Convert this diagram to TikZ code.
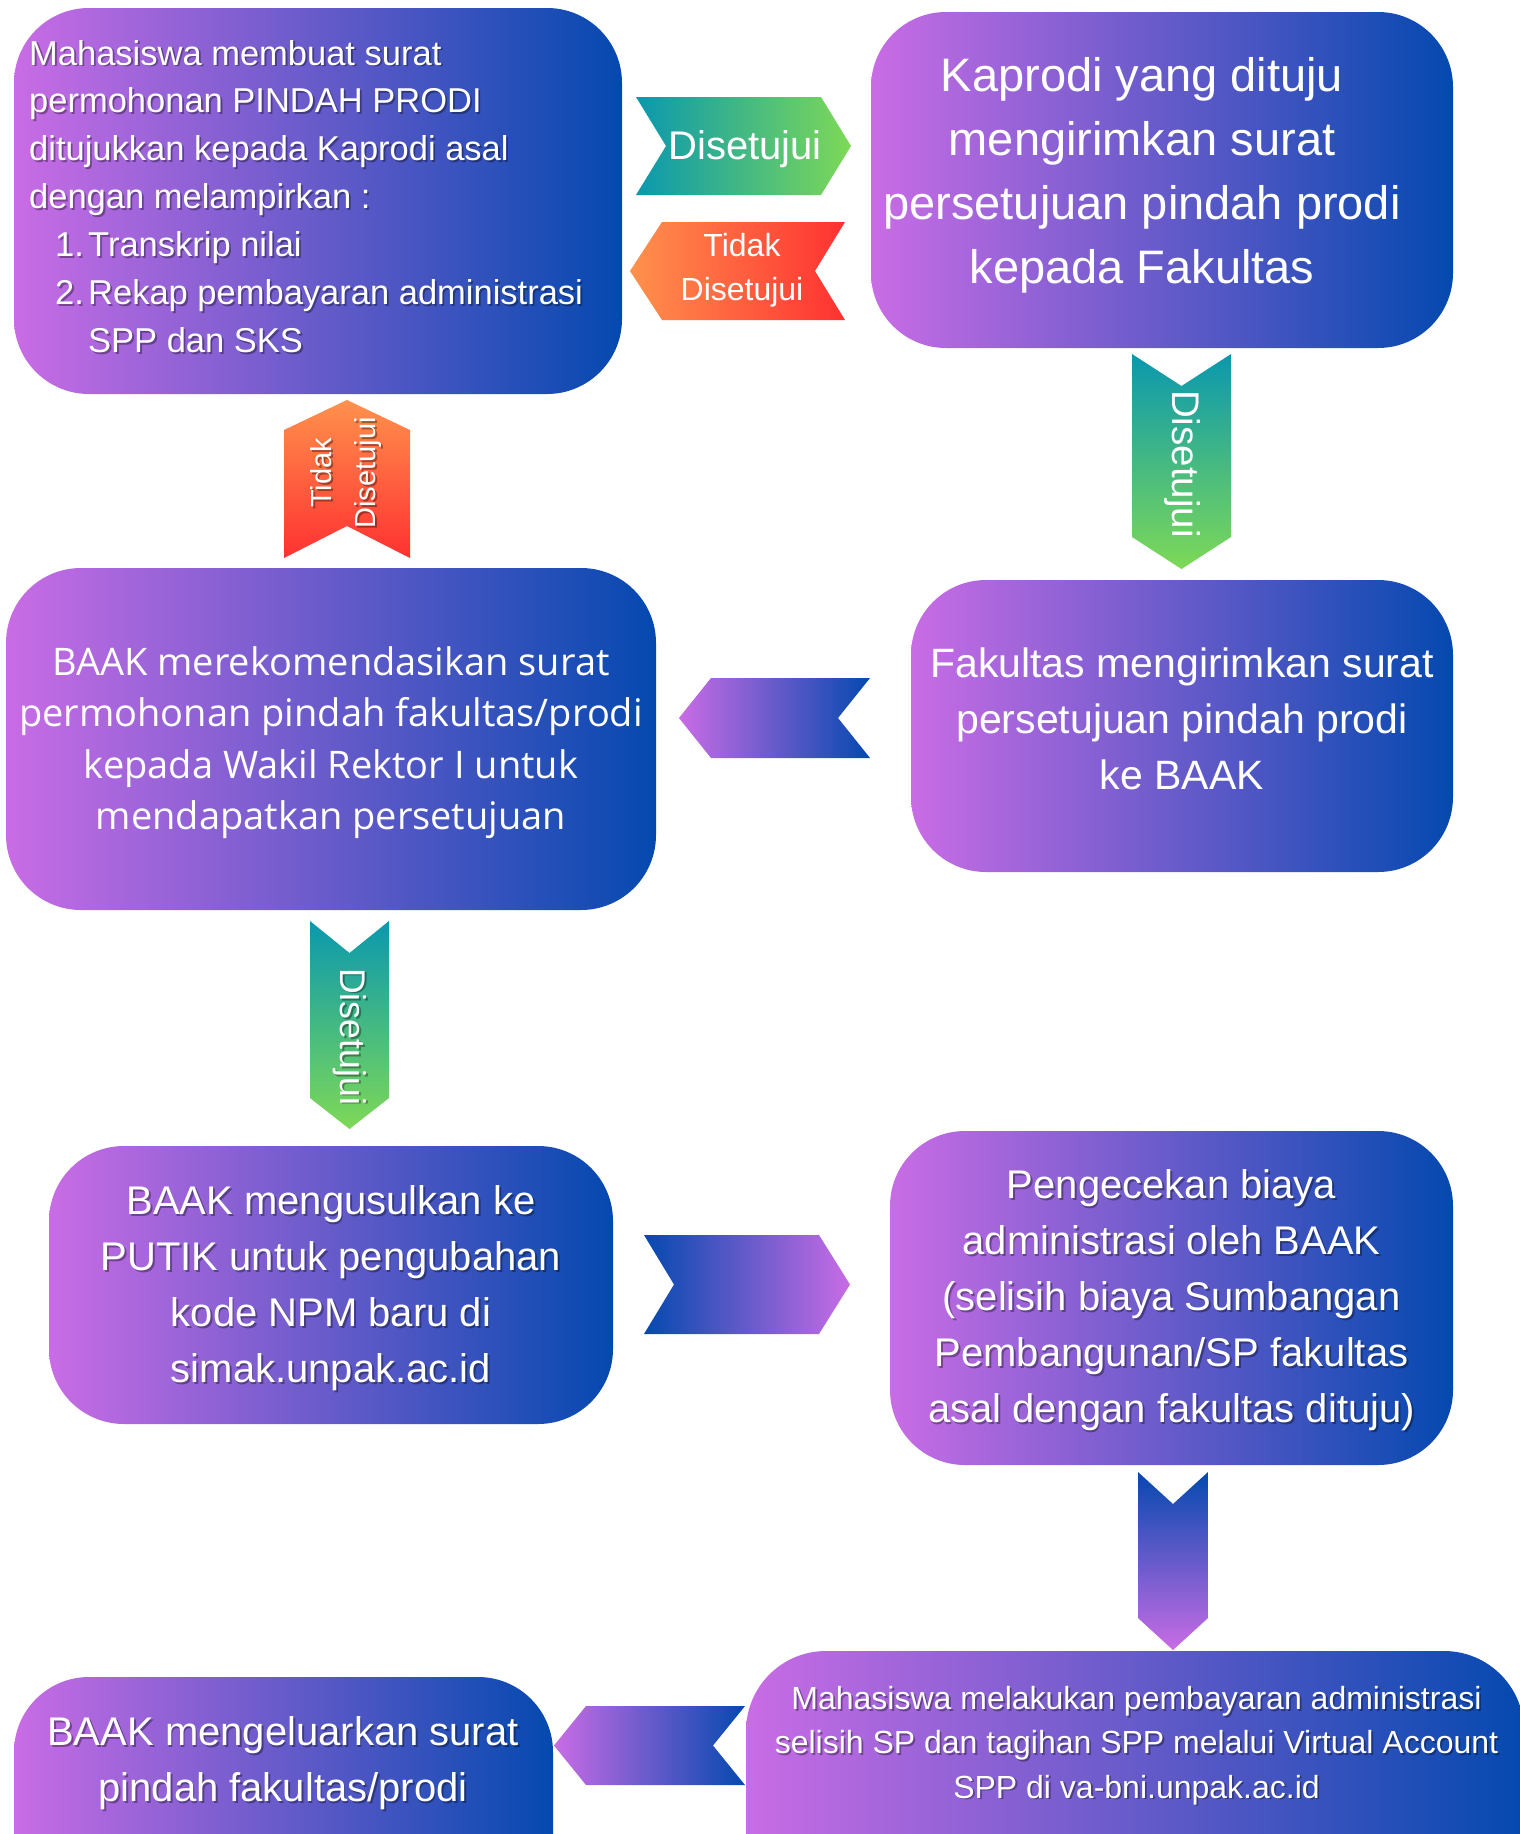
\documentclass[tikz,border=0pt]{standalone}
\usepackage{fontspec}
\setmainfont{Liberation Sans}
\newfontfamily\osans{Open Sans}
\definecolor{bL}{HTML}{C96CE5}
\definecolor{bR}{HTML}{0449AF}
\definecolor{gT}{HTML}{0A98AE}
\definecolor{gB}{HTML}{7ED957}
\definecolor{oL}{HTML}{FF914D}
\definecolor{oR}{HTML}{FF3131}
\tikzset{
  box/.style={rectangle, rounded corners=75pt, left color=bL, right color=bR, draw=none, inner sep=0pt},
  txt/.style={text=white, inner sep=0pt, align=center},
  shd/.style={text=black, opacity=0.35},
}
\newcommand\shtxt[4]{%
  \node[txt,#3,shd] at ([shift={(1.8,1.8)}]#2) {#4};
  \node[txt,#3] (#1) at (#2) {#4};}
\begin{document}
\begin{tikzpicture}[x=1pt,y=-1pt]
\useasboundingbox (0,0) rectangle (1520,1834);
\fill[white] (0,0) rectangle (1520,1834);
\begin{scope}
\clip (0,0) rectangle (1520,1834);

% ---------- boxes ----------
\node[box, minimum width=608pt, minimum height=386pt] (b1) at (318,201) {};
\node[box, minimum width=582pt, minimum height=336pt] (b2) at (1162,180) {};
\node[box, minimum width=542pt, minimum height=292pt] (b3) at (1182,726) {};
\node[box, minimum width=650pt, minimum height=342pt] (b4) at (331,739) {};
\node[box, minimum width=564pt, minimum height=278pt] (b5) at (331,1285) {};
\node[box, minimum width=563pt, minimum height=334pt] (b6) at (1171.5,1298) {};
\node[box, minimum width=778pt, minimum height=270pt, rounded corners=80pt] (b7) at (1135,1786) {};
\node[box, minimum width=539pt, minimum height=240pt] (b8) at (283.5,1797) {};

% ---------- texts ----------
\shtxt{t1}{29,196.4}{anchor=west, align=left, font=\fontsize{34.5}{47.9}\selectfont}{%
Mahasiswa membuat surat\\
permohonan PINDAH PRODI\\
ditujukkan kepada Kaprodi asal\\
dengan melampirkan :\\
\hspace*{26pt}\makebox[33pt][l]{1.}Transkrip nilai\\
\hspace*{26pt}\makebox[33pt][l]{2.}Rekap pembayaran administrasi\\
\hspace*{59pt}SPP dan SKS}

\node[txt, font=\fontsize{47}{64}\selectfont] (t2) at (1142,175.5) {Kaprodi yang dituju\\mengirimkan surat\\persetujuan pindah prodi\\kepada Fakultas};

\node[txt, font=\fontsize{41}{56}\selectfont] (t3) at (1182,719) {Fakultas mengirimkan surat\\persetujuan pindah prodi\\ke BAAK};

\node[txt, font=\osans\fontsize{38}{51.4}\selectfont] (t4) at (331,742.5) {BAAK merekomendasikan surat\\permohonan pindah fakultas/prodi\\kepada Wakil Rektor I untuk\\mendapatkan persetujuan};

\shtxt{t5}{331,1288.5}{font=\fontsize{40}{56}\selectfont}{BAAK mengusulkan ke\\PUTIK untuk pengubahan\\kode NPM baru di\\simak.unpak.ac.id}

\shtxt{t6}{1171.5,1300.5}{font=\fontsize{40}{56}\selectfont}{Pengecekan biaya\\administrasi oleh BAAK\\(selisih biaya Sumbangan\\Pembangunan/SP fakultas\\asal dengan fakultas dituju)}

\shtxt{t7}{1136.5,1745.5}{font=\fontsize{32}{44.4}\selectfont}{Mahasiswa melakukan pembayaran administrasi\\selisih SP dan tagihan SPP melalui Virtual Account\\SPP di va-bni.unpak.ac.id}

\shtxt{t8}{283,1763}{font=\fontsize{40}{56}\selectfont}{BAAK mengeluarkan surat\\pindah fakultas/prodi}

% ---------- arrows ----------
% A1 Disetujui (right)
\path[left color=gT, right color=gB] (636,97) -- (821,97) -- (851,146) -- (821,195) -- (636,195) -- (666,146) -- cycle;
\node[txt, font=\fontsize{40}{48}\selectfont] (a1) at (745,149.5) {Disetujui};

% A2 Tidak Disetujui (left)
\path[left color=oL, right color=oR] (630,271) -- (662,222) -- (845,222) -- (815,271) -- (845,320) -- (662,320) -- cycle;
\node[txt, font=\fontsize{32}{44}\selectfont] (a2) at (742,270.5) {Tidak\\Disetujui};

% A3 Disetujui (down, right column)
\path[top color=gT, bottom color=gB] (1132,354) -- (1181.5,386) -- (1231,354) -- (1231,537) -- (1181.5,569) -- (1132,537) -- cycle;
\node[txt, rotate=-90, font=\fontsize{38.5}{46}\selectfont] (a3) at (1182,464) {Disetujui};

% A4 Tidak Disetujui (up)
\path[top color=oL, bottom color=oR] (347,400) -- (410,430) -- (410,558) -- (347,526) -- (284,558) -- (284,430) -- cycle;
\shtxt{a4}{346,473}{rotate=90, font=\fontsize{29}{44}\selectfont}{Tidak\\Disetujui}

% A5 purple left
\path[left color=bL, right color=bR] (679,718) -- (711,678) -- (870,678) -- (838,718) -- (870,758) -- (711,758) -- cycle;

% A6 Disetujui (down, left column)
\path[top color=gT, bottom color=gB] (310,921) -- (349.5,953) -- (389,921) -- (389,1098) -- (349.5,1129) -- (310,1098) -- cycle;
\shtxt{a6}{349.5,1036.5}{rotate=-90, font=\fontsize{35.7}{44}\selectfont}{Disetujui}

% A7 blue->purple right
\path[left color=bR, right color=bL] (644,1235) -- (819,1235) -- (850,1284.5) -- (819,1334) -- (644,1334) -- (674,1284.5) -- cycle;

% A8 down blue->purple
\path[top color=bR, bottom color=bL] (1138,1472) -- (1173,1504) -- (1208,1472) -- (1208,1618) -- (1173,1650) -- (1138,1618) -- cycle;

% A9 purple left bottom
\path[left color=bL, right color=bR] (554,1745.5) -- (586,1706) -- (745,1706) -- (713,1745.5) -- (745,1785) -- (586,1785) -- cycle;
\end{scope}
\end{tikzpicture}
\end{document}
